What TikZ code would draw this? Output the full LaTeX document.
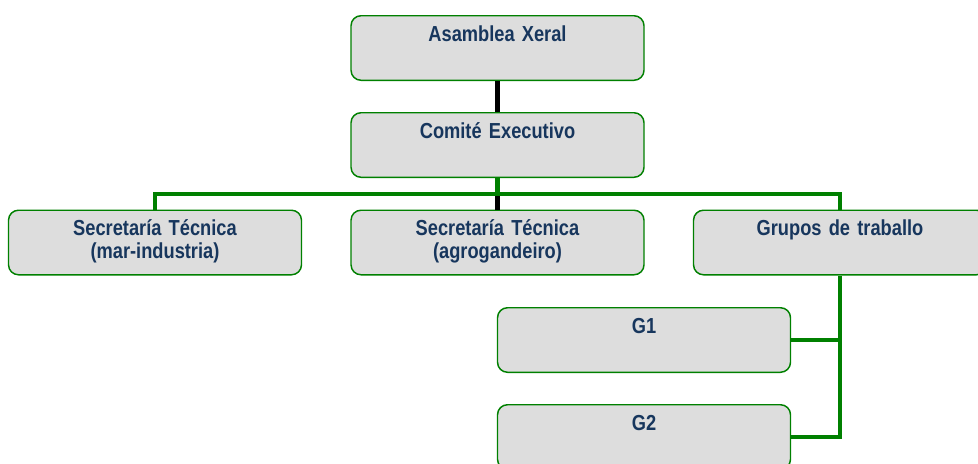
\documentclass[tikz,border=0pt]{standalone}
\usepackage{fontspec}
\setmainfont{Liberation Sans}[FakeStretch=0.84, WordSpace=0.8]
\usepackage{tikz}
\definecolor{orggreen}{RGB}{0,128,0}
\definecolor{orgfill}{RGB}{221,221,221}
\definecolor{orgtext}{RGB}{23,54,93}
\tikzset{
  orgbox/.style={draw=orggreen, line width=1.1pt, fill=orgfill, rounded corners=7.5pt,
    inner sep=0pt, text width=219.75pt, align=center, text height=19pt, text depth=29.4pt,
    font=\fontsize{16.3}{17.25}\selectfont\bfseries, text=orgtext},
  greenline/.style={draw=orggreen, line width=3.2pt},
  blackline/.style={draw=black, line width=3.2pt}
}

\begin{document}
\begin{tikzpicture}[x=0.75pt, y=-0.75pt]
			%%%%% BOXES %%%%%
			\useasboundingbox (0, 0) rectangle (978, 464);
			
			\node[orgbox] (ax) at (497.5, 48) {Asamblea Xeral};
			\node[orgbox] (ce) at (497.5, 145) {Comité Executivo};
			
			\node[orgbox] (st1) at (155, 242.5) {Secretaría Técnica\\(mar-industria)};
			\node[orgbox] (st2) at (497.5, 242.5) {Secretaría Técnica\\(agrogandeiro)};
			\node[orgbox] (gt) at (840, 242.5) {Grupos de traballo};
			
			\node[orgbox] (g1) at (644, 340) {G1};
			\node[orgbox] (g2) at (644, 437) {G2};
			
			%%%%% LINES %%%%%
			\coordinate (bus) at (0, 194);
			
			\draw[blackline] (ax) -- (ce);
			\draw[blackline] (st2.north) -- (st2.north |- bus);
			
			\draw[greenline] (ce.south) -- (ce.south |- bus);
			\draw[greenline] (st1.north) |- (gt.north |- bus) -- (gt.north);
			
			\draw[greenline] (gt.south) |- (g2.east);
			\draw[greenline] (g1.east) -- (g1.east -| gt.south);
			
			%%%%% END %%%%%
		\end{tikzpicture}
\end{document}
